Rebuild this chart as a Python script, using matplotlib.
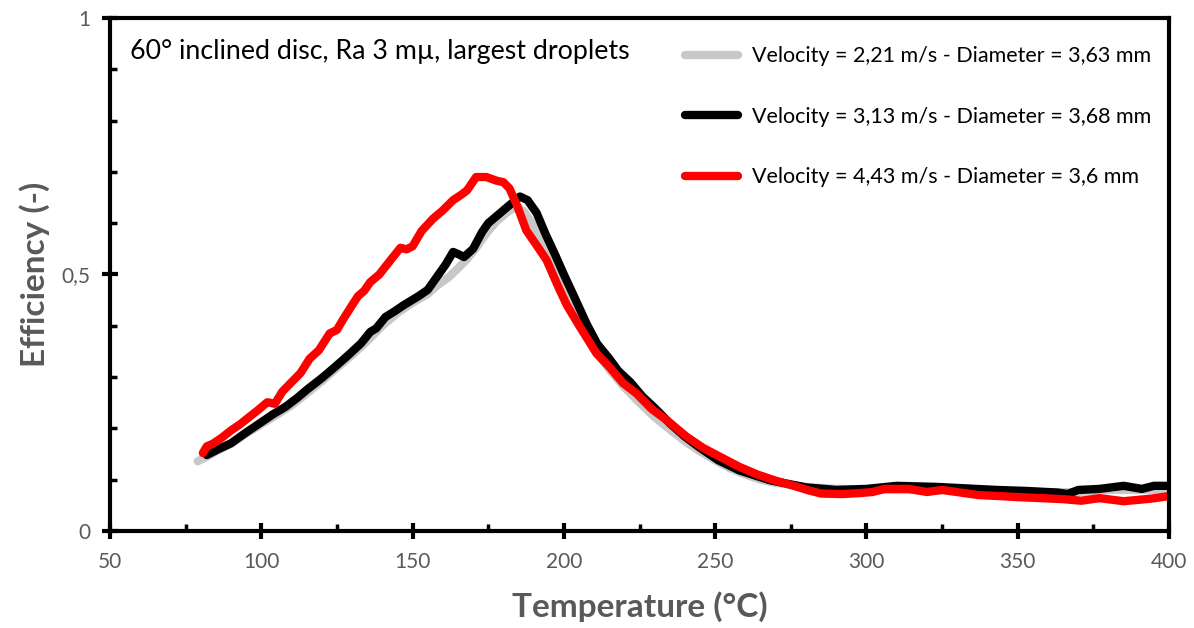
import matplotlib
matplotlib.use('Agg')
import matplotlib.pyplot as plt
from matplotlib.ticker import MultipleLocator, FixedLocator

# temperature (C) / efficiency (-)
t_gray = [79, 82, 85, 90, 95, 100, 105, 110, 115, 120, 125, 130, 135, 140, 145, 150, 155, 158, 162, 165,
          168, 171, 175, 178, 181, 183, 185, 187, 190, 193, 196, 200, 205, 210, 215, 220, 225, 230, 235, 240,
          245, 250, 255, 260, 265, 270, 280, 290, 300, 310, 320, 330, 340, 350, 360, 370, 380, 390, 400]
e_gray = [0.136, 0.145, 0.155, 0.170, 0.190, 0.208, 0.226, 0.245, 0.268, 0.292, 0.318, 0.343, 0.370, 0.400, 0.425,
          0.445, 0.462, 0.478, 0.495, 0.512, 0.530, 0.552, 0.585, 0.605, 0.620, 0.628, 0.630, 0.622, 0.595, 0.560,
          0.520, 0.465, 0.405, 0.355, 0.315, 0.280, 0.250, 0.222, 0.198, 0.175, 0.155, 0.138, 0.122, 0.110, 0.100,
          0.094, 0.086, 0.082, 0.081, 0.080, 0.080, 0.079, 0.078, 0.076, 0.075, 0.076, 0.080, 0.080, 0.081]

t_black = [82, 86, 90, 95, 100, 104, 108, 112, 115, 120, 124, 129, 133, 136, 138, 141, 144, 147, 152, 155,
           158, 161, 163.4, 165, 167, 170, 173, 175, 178, 182, 185.5, 188, 191, 194, 197, 200, 203, 207.5, 211, 215,
           218, 222, 226, 230, 235, 240, 245, 251, 258, 268, 280, 290, 300, 310, 323, 333, 343, 353, 363,
           366.5, 370, 377, 385, 391, 395, 400]
e_black = [0.148, 0.160, 0.171, 0.192, 0.212, 0.228, 0.242, 0.260, 0.275, 0.298, 0.318, 0.344, 0.366, 0.388, 0.395,
           0.417, 0.428, 0.440, 0.458, 0.470, 0.495, 0.520, 0.544, 0.540, 0.534, 0.550, 0.583, 0.600, 0.615, 0.635,
           0.652, 0.645, 0.620, 0.578, 0.540, 0.500, 0.462, 0.404, 0.365, 0.336, 0.312, 0.290, 0.262, 0.240, 0.210,
           0.184, 0.162, 0.138, 0.118, 0.099, 0.085, 0.080, 0.082, 0.088, 0.086, 0.083, 0.080, 0.078, 0.075,
           0.072, 0.080, 0.082, 0.088, 0.082, 0.088, 0.088]

t_red = [80.7, 82, 84, 87, 90, 93, 96, 99, 102, 104.5, 107, 110, 113, 116, 119, 122.6, 125, 127, 130, 132,
         134, 136, 139, 143, 146, 148, 150, 153, 156.8, 160, 163.4, 166, 168, 171, 174.4, 177.7, 180, 182,
         184.3, 187.6, 191, 194.3, 198, 201, 205.3, 210.8, 215, 219.6, 224, 229, 234, 240.5, 246, 251.5, 258,
         264, 270, 276, 281, 285, 292, 298, 302, 306, 314, 320, 325, 331, 337, 344, 350, 358, 365, 371,
         377, 385, 394, 400]
e_red = [0.152, 0.165, 0.170, 0.182, 0.196, 0.208, 0.222, 0.236, 0.251, 0.248, 0.272, 0.290, 0.308, 0.336, 0.352,
         0.385, 0.392, 0.412, 0.440, 0.458, 0.468, 0.485, 0.500, 0.530, 0.552, 0.549, 0.555, 0.585, 0.609, 0.625,
         0.645, 0.655, 0.664, 0.690, 0.690, 0.683, 0.680, 0.668, 0.638, 0.586, 0.557, 0.528, 0.478, 0.440, 0.398,
         0.346, 0.320, 0.288, 0.268, 0.238, 0.216, 0.184, 0.162, 0.145, 0.125, 0.110, 0.098, 0.088, 0.079,
         0.073, 0.072, 0.074, 0.076, 0.082, 0.082, 0.076, 0.080, 0.075, 0.070, 0.068, 0.066, 0.064, 0.062, 0.059,
         0.064, 0.058, 0.063, 0.068]

labels = ["Velocity = 2,21 m/s - Diameter = 3,63 mm",
          "Velocity = 3,13 m/s - Diameter = 3,68 mm",
          "Velocity = 4,43 m/s - Diameter = 3,6 mm"]

GREY_TXT = '#595959'
plt.rcParams['font.family'] = ['Lato', 'DejaVu Sans']

fig = plt.figure(figsize=(11.94, 6.28), dpi=100)
ax = fig.add_axes([0.0921, 0.1545, 0.8870, 0.8168])

style = dict(lw=6, solid_capstyle='round', solid_joinstyle='round')
ax.plot(t_gray, e_gray, color='#c8c8c8', label=labels[0], **style)
ax.plot(t_black, e_black, color='black', label=labels[1], **style)
ax.plot(t_red, e_red, color='#ff0000', label=labels[2], **style)

ax.set_xlim(50, 400)
ax.set_ylim(0, 1)
ax.xaxis.set_major_locator(MultipleLocator(50))
ax.xaxis.set_minor_locator(MultipleLocator(25))
ax.yaxis.set_major_locator(FixedLocator([0, 0.5, 1]))
ax.yaxis.set_minor_locator(MultipleLocator(0.1))
ax.set_yticklabels(['0', '0,5', '1'])

for s in ax.spines.values():
    s.set_linewidth(3)
    s.set_color('black')

ax.tick_params(which='major', direction='inout', length=12, width=3, colors='black',
               labelcolor=GREY_TXT, labelsize=15)
ax.tick_params(which='minor', direction='in', length=5, width=2.5, colors='black')
ax.tick_params(axis='x', which='major', pad=9)
ax.tick_params(axis='y', which='major', pad=8)

ax.set_xlabel('Temperature (°C)', fontsize=24, fontweight='bold', color=GREY_TXT, labelpad=14)
ax.set_ylabel('Efficiency (-)', fontsize=24, fontweight='bold', color=GREY_TXT, labelpad=8)

ax.text(0.019, 0.935, '60° inclined disc, Ra 3 mµ, largest droplets', transform=ax.transAxes,
        fontsize=19.3, color='black', ha='left', va='center')

ax.legend(loc='upper right', frameon=False, fontsize=15.5, handlelength=2.5, labelspacing=1.88,
          handletextpad=0.65, borderaxespad=1.0, bbox_to_anchor=(1.012, 1.004))

plt.savefig('out.png', dpi=100)
